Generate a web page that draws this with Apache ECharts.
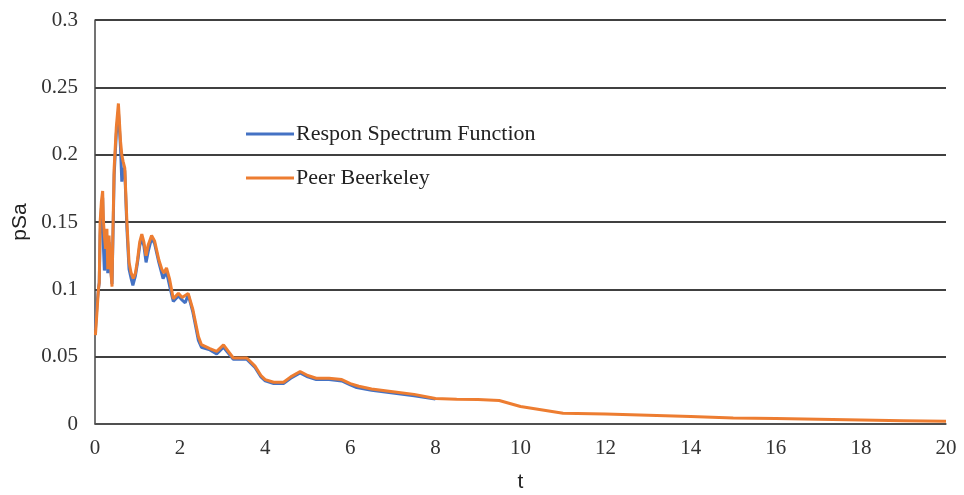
<!DOCTYPE html>
<html>
<head>
<meta charset="utf-8">
<script src="https://cdn.jsdelivr.net/npm/echarts@6/dist/echarts.min.js"></script>
<style>
html,body{margin:0;padding:0;background:#fff;}
#c{width:964px;height:495px;}
</style>
</head>
<body>
<div id="c"></div>
<script>
// Respon Spectrum Function (blue), t and pSa
var responT = [0.01,0.05,0.08,0.1,0.12,0.15,0.18,0.2,0.22,0.25,0.28,0.3,0.33,0.36,0.4,0.42,0.45,0.5,0.55,0.6,0.63,0.66,0.7,0.75,0.8,0.85,0.89,0.95,1.0,1.05,1.1,1.15,1.2,1.25,1.33,1.4,1.5,1.6,1.68,1.75,1.84,1.96,2.05,2.12,2.19,2.3,2.43,2.5,2.7,2.86,3.02,3.25,3.57,3.76,3.9,4.0,4.2,4.43,4.6,4.82,5.0,5.2,5.5,5.8,6.0,6.15,6.5,7.0,7.5,8.0];
var responPSa = [0.07,0.09,0.1,0.105,0.14,0.16,0.168,0.13,0.114,0.118,0.14,0.112,0.135,0.118,0.104,0.135,0.185,0.215,0.232,0.205,0.18,0.19,0.188,0.145,0.115,0.108,0.103,0.11,0.12,0.132,0.138,0.132,0.12,0.128,0.138,0.134,0.12,0.108,0.113,0.103,0.091,0.095,0.092,0.09,0.096,0.083,0.062,0.057,0.055,0.052,0.057,0.048,0.048,0.042,0.035,0.032,0.03,0.03,0.034,0.038,0.035,0.033,0.033,0.032,0.029,0.027,0.025,0.023,0.021,0.0185];
// Peer Beerkeley (orange), t and pSa
var peerT = [0.01,0.05,0.08,0.1,0.12,0.15,0.18,0.2,0.22,0.25,0.28,0.3,0.33,0.36,0.4,0.42,0.45,0.5,0.55,0.6,0.63,0.66,0.7,0.75,0.8,0.85,0.9,0.95,1.0,1.05,1.1,1.15,1.2,1.25,1.33,1.4,1.5,1.57,1.62,1.68,1.75,1.84,1.96,2.05,2.19,2.3,2.43,2.5,2.7,2.86,3.02,3.25,3.57,3.76,3.9,4.0,4.2,4.43,4.6,4.82,5.0,5.2,5.5,5.8,6.0,6.2,6.5,7.0,7.5,8.0,8.5,9.0,9.5,10,11,12,13,14,15,16,17,18,19,20];
var peerPSa = [0.066,0.085,0.1,0.105,0.15,0.165,0.173,0.15,0.14,0.13,0.145,0.115,0.14,0.12,0.102,0.14,0.19,0.22,0.238,0.21,0.2,0.195,0.19,0.15,0.12,0.112,0.108,0.112,0.122,0.135,0.141,0.135,0.125,0.133,0.14,0.136,0.122,0.115,0.112,0.116,0.108,0.093,0.097,0.094,0.097,0.085,0.065,0.059,0.056,0.054,0.0587,0.049,0.049,0.043,0.036,0.033,0.031,0.031,0.035,0.039,0.036,0.034,0.034,0.033,0.03,0.028,0.026,0.024,0.022,0.019,0.0183,0.0182,0.0175,0.013,0.008,0.0075,0.0065,0.0055,0.0045,0.004,0.0035,0.003,0.0025,0.002];
var seriesNames = ['Respon Spectrum Function','Peer Beerkeley'];
var xTicks = [0,2,4,6,8,10,12,14,16,18,20];
var yTicks = [0,0.05,0.1,0.15,0.2,0.25,0.3];

function pairs(t, v){ return t.map(function(x,i){ return [x, v[i]]; }); }

var chart = echarts.init(document.getElementById('c'), null, {renderer:'canvas'});
chart.setOption({
  animation:false,
  backgroundColor:'#fff',
  grid:{left:95,right:18,top:20,bottom:71,containLabel:false,outerBoundsMode:'none'},
  legend:{
    orient:'vertical', left:241, top:118, itemGap:22, itemWidth:48, itemHeight:3,
    icon:'rect',
    textStyle:{fontFamily:'Liberation Serif', fontSize:22, color:'#222', padding:[0,0,0,-3]},
    data:seriesNames
  },
  xAxis:{
    type:'value', min:xTicks[0], max:xTicks[xTicks.length-1], interval:2,
    name:'t', nameLocation:'middle', nameGap:48,
    nameTextStyle:{fontFamily:'Liberation Sans', fontSize:21, color:'#222'},
    axisLine:{show:true, lineStyle:{color:'#555', width:1.5}},
    axisTick:{show:false},
    splitLine:{show:false},
    axisLabel:{fontFamily:'Liberation Serif', fontSize:21, color:'#333', margin:14}
  },
  yAxis:{
    type:'value', min:yTicks[0], max:yTicks[yTicks.length-1], interval:0.05,
    name:'pSa', nameLocation:'middle', nameGap:60, nameRotate:90,
    nameTextStyle:{fontFamily:'Liberation Sans', fontSize:21, color:'#222'},
    axisLine:{show:true, lineStyle:{color:'#444', width:1.5}},
    axisTick:{show:false},
    splitLine:{show:true, lineStyle:{color:'#000', width:1.5}},
    axisLabel:{fontFamily:'Liberation Serif', fontSize:21, color:'#333', margin:17,
      formatter:function(v){ return String(+v.toFixed(2)); }}
  },
  series:[
    {name:seriesNames[0], type:'line', data:pairs(responT,responPSa), showSymbol:false, symbol:'none',
     lineStyle:{color:'#4472C4', width:3}, itemStyle:{color:'#4472C4'}, z:2},
    {name:seriesNames[1], type:'line', data:pairs(peerT,peerPSa), showSymbol:false, symbol:'none',
     lineStyle:{color:'#ED7D31', width:3}, itemStyle:{color:'#ED7D31'}, z:3}
  ]
});
</script>
</body>
</html>
